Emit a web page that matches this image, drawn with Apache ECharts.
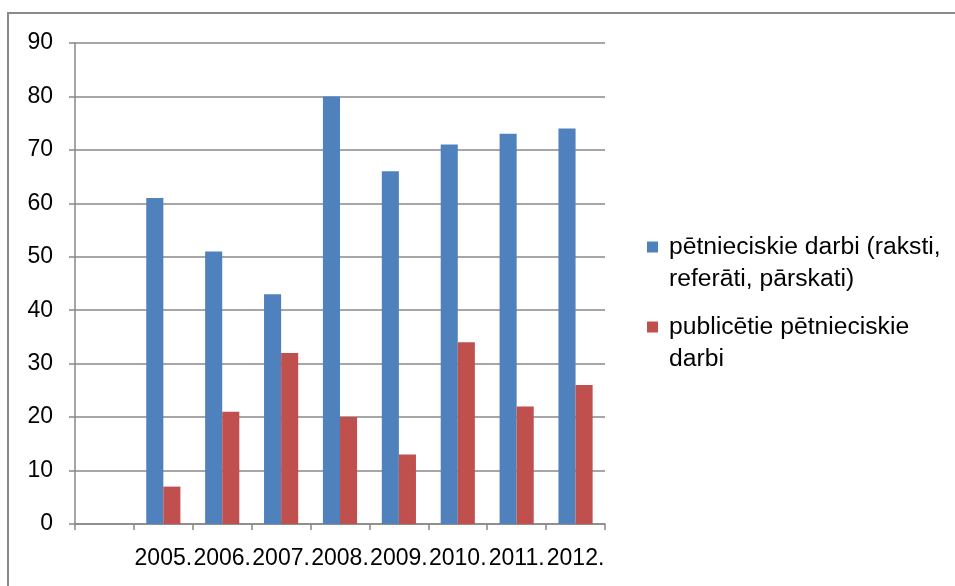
<!DOCTYPE html>
<html>
<head>
<meta charset="utf-8">
<script src="https://cdn.jsdelivr.net/npm/echarts@6/dist/echarts.min.js"></script>
<style>
  html, body { margin: 0; padding: 0; background: #fff; }
  #chart { width: 955px; height: 586px; }
</style>
</head>
<body>
<div id="chart"></div>
<script>
const years = ['2005.', '2006.', '2007.', '2008.', '2009.', '2010.', '2011.', '2012.'];
const researchWorks = [61, 51, 43, 80, 66, 71, 73, 74];
const publishedWorks = [7, 21, 32, 20, 13, 34, 22, 26];
const seriesNames = ['pētnieciskie darbi (raksti,\nreferāti, pārskati)', 'publicētie pētnieciskie\ndarbi'];
const yTicks = { min: 0, max: 90, interval: 10 };

// leading empty category as in the original chart
const categories = [''].concat(years);
const s1 = ['-'].concat(researchWorks);
const s2 = ['-'].concat(publishedWorks);

const FONT = 'Liberation Sans';
const chart = echarts.init(document.getElementById('chart'));
chart.setOption({
  animation: false,
  backgroundColor: '#fff',
  graphic: [{
    type: 'rect',
    shape: { x: 8, y: 13, width: 1200, height: 1000 },
    style: { fill: 'none', stroke: '#8a8a8a', lineWidth: 2 },
    silent: true, z: -1
  }],
  grid: { left: 75, right: 350, top: 43, bottom: 62, containLabel: false },
  legend: {
    orient: 'vertical',
    left: 642,
    top: 194,
    padding: 5,
    itemWidth: 11,
    itemHeight: 11,
    itemGap: -16,
    icon: 'rect',
    formatter: function (name) { return '\n' + name; },
    textStyle: { fontFamily: FONT, fontSize: 24.7, color: '#000', lineHeight: 32, padding: [0, 0, 0, 6] },
    data: seriesNames
  },
  xAxis: {
    type: 'category',
    data: categories,
    boundaryGap: true,
    axisLine: { show: true, lineStyle: { color: '#888', width: 1.5 } },
    axisTick: { show: true, interval: 0, length: 6, lineStyle: { color: '#888', width: 1.5 } },
    axisLabel: { interval: 0, fontFamily: FONT, fontSize: 23, color: '#000', margin: 23 },
    splitLine: { show: false }
  },
  yAxis: {
    type: 'value',
    min: yTicks.min, max: yTicks.max, interval: yTicks.interval,
    axisLine: { show: true, lineStyle: { color: '#888', width: 1.5 } },
    axisTick: { show: true, length: 6, lineStyle: { color: '#888', width: 1.5 } },
    axisLabel: { fontFamily: FONT, fontSize: 23, color: '#000', margin: 22 },
    splitLine: { show: true, lineStyle: { color: '#888', width: 1.5 } }
  },
  series: [
    {
      name: seriesNames[0], type: 'bar', data: s1,
      itemStyle: { color: '#4F81BD' },
      barGap: '0%', barCategoryGap: '42%'
    },
    {
      name: seriesNames[1], type: 'bar', data: s2,
      itemStyle: { color: '#C0504D' },
      barGap: '0%', barCategoryGap: '42%'
    }
  ]
});
</script>
</body>
</html>
